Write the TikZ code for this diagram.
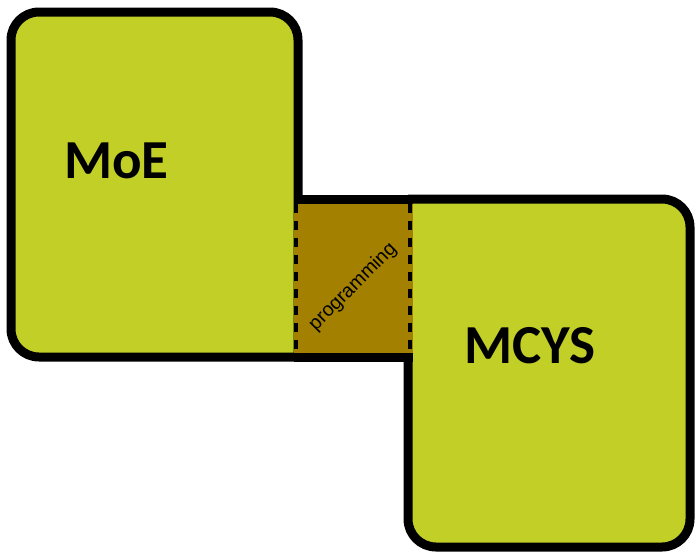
\documentclass[tikz,border=0pt]{standalone}
\usepackage{fontspec}
\setmainfont{Carlito}
\newfontfamily\arialfont{Liberation Sans}
\definecolor{boxgreen}{RGB}{194,207,38}
\definecolor{overlapgold}{RGB}{163,128,0}
\tikzset{
  boxshape/.style={fill=boxgreen, draw=black, line width=9pt, rounded corners=28pt, line join=miter},
  borderline/.style={draw=black, line width=9pt},
  dashedge/.style={draw=black, line width=4.5pt, dash pattern=on 9pt off 8pt},
  bigtext/.style={font=\fontsize{55}{62}\selectfont\bfseries, inner sep=0pt, anchor=base west},
}
\begin{document}
\begin{tikzpicture}[x=1pt, y=-1pt]
\useasboundingbox (0,0) rectangle (695,554);
% left box (bottom-right corner sharp)
\path[boxshape] (298,357) -- (11,357) -- (11,12) -- (298,12) -- (298,357);
% right box (top-left corner sharp)
\path[boxshape] (408,199) -- (690,199) -- (690,547) -- (408,547) -- (408,199);
% overlap
\fill[overlapgold] (293.5,203.5) rectangle (412.5,352.5);
\path[borderline] (293.5,199) -- (412.5,199);
\path[borderline] (293.5,357) -- (412.5,357);
\coordinate (dlt) at (296,203.5);
\coordinate (dlb) at (296,352.5);
\coordinate (drt) at (410,203.5);
\coordinate (drb) at (410,352.5);
\path[dashedge] (dlt) -- (dlb);
\path[dashedge] (drt) -- (drb);
\node[bigtext] (moe) at (64,178) {MoE};
\node[bigtext] (mcys) at (464,363) {MCYS};
\node[font=\arialfont\fontsize{19.5}{22}\selectfont, rotate=45, inner sep=0pt] (prog) at (353,287) {programming};
\end{tikzpicture}
\end{document}
